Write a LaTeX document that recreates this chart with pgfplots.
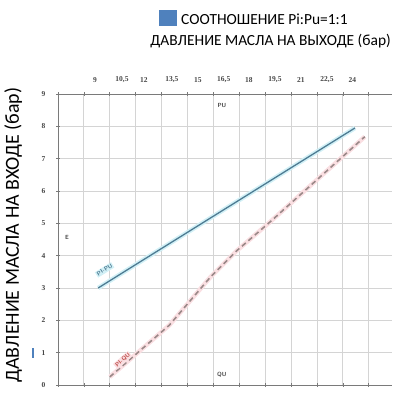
\documentclass[border=0pt]{standalone}
\usepackage{fontspec}
\setmainfont{Carlito}
\newfontfamily\tickfont{Liberation Serif}
\usepackage{pgfplots}
\pgfplotsset{compat=1.18}
\definecolor{gridc}{HTML}{D4D4D4}
\definecolor{framec}{HTML}{7A7A7A}
\definecolor{pucol}{HTML}{4E7C93}
\definecolor{puhalo}{HTML}{D2F0F6}
\definecolor{qucol}{HTML}{9A8888}
\definecolor{quhalo}{HTML}{FADFE2}
\definecolor{sqblue}{HTML}{4F81BD}
\definecolor{tickc}{HTML}{454545}
\definecolor{qutext}{HTML}{C0504D}
\begin{document}
\begin{tikzpicture}
\useasboundingbox (0bp,0bp) rectangle (393bp,398bp);
\fill[sqblue] (159bp,372bp) rectangle (177bp,388bp);
\node[anchor=west, inner sep=0pt, font=\fontsize{15.5}{17}\selectfont] at (181bp,379bp) {СООТНОШЕНИЕ Pi:Pu=1:1};
\node[anchor=east, inner sep=0pt, font=\fontsize{15.5}{17}\selectfont] at (391bp,357bp) {ДАВЛЕНИЕ МАСЛА НА ВЫХОДЕ (бар)};
\node[rotate=90, anchor=north, inner sep=0pt, font=\fontsize{20}{22}\selectfont] at (4bp,163bp) {ДАВЛЕНИЕ МАСЛА НА ВХОДЕ (бар)};
\fill[sqblue] (32bp,40bp) rectangle (33.6bp,50bp);
\begin{axis}[at={(58bp,13bp)}, anchor=south west, scale only axis,
  width=334bp, height=291bp,
  xmin=0, xmax=12.9, ymin=0, ymax=9,
  axis line style={draw=none},
  xtick={0,...,12}, xticklabels={},
  ytick={0,...,9},
  xtick pos=both, ytick pos=left,
  tick align=center,
  major tick length=4bp,
  tick style={framec, line width=0.6pt},
  grid=major, major grid style={gridc, line width=0.8pt},
  xticklabel pos=upper,
  /pgf/number format/assume math mode=true,
  yticklabel style={font=\tickfont\bfseries\fontsize{7.5}{8}\selectfont, text=tickc, xshift=-7bp},
  extra x ticks={1.43,2.47,3.32,4.4,5.4,6.4,7.37,8.38,9.38,10.39,11.37},
  extra x tick labels={9,{10,5},12,{13,5},15,{16,5},18,{19,5},21,{22,5},24},
  extra x tick style={major tick length=0pt, grid=none,
    xticklabel style={font=\tickfont\bfseries\fontsize{7.5}{8}\selectfont, text=tickc, yshift=8bp}},
  clip=false,
]
\draw[framec, line width=1pt] (axis cs:0,9) -- (axis cs:12.9,9);
\draw[framec, line width=1pt] (axis cs:0,0) -- (axis cs:12.9,0);
\draw[framec, line width=1pt] (axis cs:0,0) -- (axis cs:0,9);
\addplot[puhalo, line width=4.5pt] coordinates {(1.55,3.0) (11.47,7.95)};
\addplot[pucol, line width=1.3pt] coordinates {(1.55,3.0) (11.47,7.95)};
\addplot[quhalo, line width=4.5pt] coordinates {(2.0,0.25) (4.3,1.85) (5.9,3.35) (6.9,4.15) (8.2,5.05) (11.85,7.68)};
\addplot[qucol, line width=1.6pt, dash pattern=on 5pt off 3.5pt] coordinates {(2.0,0.25) (4.3,1.85) (5.9,3.35) (6.9,4.15) (8.2,5.05) (11.85,7.68)};
\node[rotate=32, fill=puhalo, text=pucol, inner sep=1pt, font=\sffamily\bfseries\fontsize{6}{7}\selectfont] at (axis cs:1.8,3.56) {PI-PU};
\node[rotate=41, fill=quhalo, text=qutext, inner sep=1pt, font=\sffamily\bfseries\fontsize{6}{7}\selectfont] at (axis cs:2.5,0.77) {PI-QU};
\node[text=tickc, font=\sffamily\bfseries\fontsize{6}{7}\selectfont] at (axis cs:0.35,4.55) {E};
\node[text=tickc, font=\sffamily\bfseries\fontsize{6}{7}\selectfont] at (axis cs:6.33,8.64) {PU};
\node[text=tickc, font=\sffamily\bfseries\fontsize{6}{7}\selectfont] at (axis cs:6.33,0.31) {QU};
\end{axis}
\end{tikzpicture}
\end{document}
